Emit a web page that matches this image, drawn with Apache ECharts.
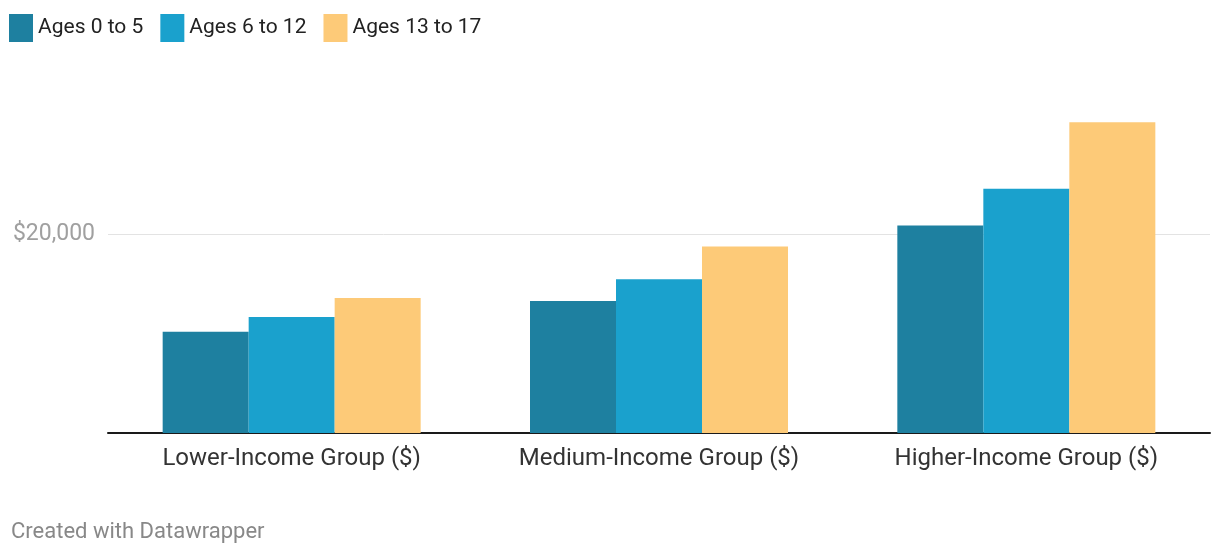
<!DOCTYPE html>
<html><head><meta charset="utf-8">
<script src="https://cdn.jsdelivr.net/npm/echarts@6/dist/echarts.min.js"></script>
<style>html,body{margin:0;padding:0;background:#fff}#c{width:1220px;height:556px}</style>
</head><body><div id="c"></div>
<script>
const categories = ['Lower-Income Group ($)', 'Medium-Income Group ($)', 'Higher-Income Group ($)'];
const seriesNames = ['Ages 0 to 5', 'Ages 6 to 12', 'Ages 13 to 17'];
const ages0to5 = [10200, 13300, 20900];
const ages6to12 = [11700, 15500, 24600];
const ages13to17 = [13600, 18800, 31300];
const yTickLabels = {20000: '$20,000'};
const colors = ['#1e80a0', '#1aa1cd', '#fdca78'];
const values = [ages0to5, ages6to12, ages13to17];

const chart = echarts.init(document.getElementById('c'));
chart.setOption({
  animation: false,
  textStyle: {fontFamily: 'Roboto'},
  color: colors,
  legend: {
    left: 4, top: 9, itemWidth: 24, itemHeight: 28, itemGap: 17,
    icon: 'rect',
    textStyle: {fontSize: 21, color: '#222', fontFamily: 'Roboto'},
    data: seriesNames
  },
  grid: {left: 108, right: 10, top: 36, bottom: 123},
  xAxis: {
    type: 'category', data: categories,
    axisLine: {lineStyle: {color: '#1a1a1a', width: 2}},
    axisTick: {show: false},
    axisLabel: {fontSize: 24, color: '#333', margin: 14, fontFamily: 'Roboto'}
  },
  yAxis: {
    type: 'value', min: 0, max: 40000, interval: 20000,
    axisLine: {show: false}, axisTick: {show: false},
    axisLabel: {fontSize: 23, color: '#a0a0a0', margin: 13, fontFamily: 'Roboto',
      formatter: v => yTickLabels[v] || ''},
    splitLine: {lineStyle: {color: ['rgba(0,0,0,0)', '#e3e3e3', 'rgba(0,0,0,0)'], width: 1}}
  },
  series: seriesNames.map((n, i) => ({
    name: n, type: 'bar', data: values[i], barWidth: 86, barGap: '0%'
  })),
  graphic: [{
    type: 'text', left: 11, top: 521,
    style: {text: 'Created with Datawrapper', fontSize: 22, fill: '#888', fontFamily: 'Roboto'}
  }]
});
</script></body></html>
